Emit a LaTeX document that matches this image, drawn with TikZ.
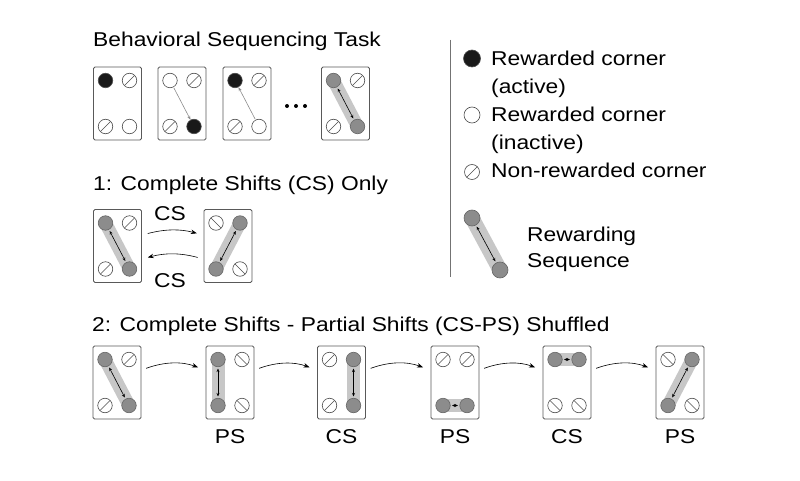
\documentclass[tikz,border=0pt]{standalone}
\usepackage{fontspec}
\setmainfont{Liberation Sans}[FakeStretch=1.14]
\usetikzlibrary{arrows.meta,backgrounds}

\tikzset{
	taskbox/.style={draw=black!65, line width=0.9pt, rounded corners=1.5pt,
		minimum width=48pt, minimum height=73pt, inner sep=0pt},
	spot/.style={circle, draw=black!70, line width=0.6pt, minimum size=14.5pt, inner sep=0pt},
	act/.style={spot, fill=black!90},
	inact/.style={spot, fill=white},
	seq/.style={spot, fill=black!45, draw=black!60},
	nrA/.style={spot, path picture={\draw[line width=0.6pt, black!70]
			(path picture bounding box.south west) -- (path picture bounding box.north east);}},
	nrB/.style={spot, path picture={\draw[line width=0.6pt, black!70]
			(path picture bounding box.north west) -- (path picture bounding box.south east);}},
	band/.style={line width=13pt, draw=black!22},
	dbl/.style={{Stealth[length=3.5pt,width=3pt]}-{Stealth[length=3.5pt,width=3pt]},
		line width=0.6pt, shorten <=1.5pt, shorten >=1.5pt},
	hint/.style={-{Stealth[length=4pt,width=3pt]}, draw=black!45, line width=0.6pt,
		shorten <=1pt},
	flow/.style={-{Stealth[length=6pt,width=4.5pt]}, line width=0.6pt,
		shorten <=5pt, shorten >=8pt},
	txt/.style={inner sep=0pt, anchor=base west}
}

% box with four corner spots: name, centre, tl, tr, bl, br
\newcommand{\cornerbox}[6]{%
	\node[taskbox] (#1) at (#2) {};
	\node[#3] (#1-tl) at ([shift={(-12,23)}]#1) {};
	\node[#4] (#1-tr) at ([shift={(12,23)}]#1) {};
	\node[#5] (#1-bl) at ([shift={(-12,-23)}]#1) {};
	\node[#6] (#1-br) at ([shift={(12,-23)}]#1) {};
}

\begin{document}
\begin{tikzpicture}[x=1pt, y=1pt, font=\fontsize{20}{24}\selectfont]
	\useasboundingbox (0,0) rectangle (800,480);

	% task
	\node[txt] (tasktitle) at (93,433.5) {Behavioral Sequencing Task};
	\cornerbox{t1}{117.5,376.5}{act}{nrA}{nrA}{inact}
	\cornerbox{t2}{182,376.5}{inact}{nrA}{nrA}{act}
	\cornerbox{t3}{247,376.5}{act}{nrA}{nrA}{inact}
	\cornerbox{t4}{345.5,376.5}{seq}{nrA}{nrA}{seq}
	\draw[hint] (t2-tl) -- (t2-br);
	\draw[hint] (t3-br) -- (t3-tl);
	\draw[dbl] (t4-tl) -- (t4-br);
	\foreach \x in {287,296,305}
		\fill (\x,374) circle (2pt);

	% legend
	\draw[black!55, line width=0.8pt] (450,440) -- (450,203);
	\node[act, minimum size=17pt] (keyact) at (472,421.5) {};
	\node[txt] (keyacttxt) at (491,414) {Rewarded corner};
	\node[txt] (keyactsub) at (491,386) {(active)};
	\node[inact, minimum size=16pt] (keyinact) at (472,365) {};
	\node[txt] (keyinacttxt) at (491,358) {Rewarded corner};
	\node[txt] (keyinactsub) at (491,330) {(inactive)};
	\node[nrA, minimum size=15pt] (keynr) at (472,308) {};
	\node[txt] (keynrtxt) at (491,302) {Non-rewarded corner};
	\node[seq, minimum size=16pt] (keyseqa) at (472,262) {};
	\node[seq, minimum size=16pt] (keyseqb) at (500,210) {};
	\draw[dbl] (keyseqa) -- (keyseqb);
	\node[txt] (keyseqtxt) at (527,239) {Rewarding};
	\node[txt] (keyseqsub) at (527,213) {Sequence};

	% 1: complete shifts
	\node[txt] (cstitle) at (93,290) {1: Complete Shifts (CS) Only};
	\cornerbox{csa}{117.5,234}{seq}{nrA}{nrA}{seq}
	\cornerbox{csb}{228,234}{nrB}{seq}{seq}{nrB}
	\draw[dbl] (csa-tl) -- (csa-br);
	\draw[dbl] (csb-tr) -- (csb-bl);
	\draw[flow, shorten <=6pt, shorten >=7pt] (csa.24) to[bend left=15] (csb.156);
	\draw[flow, shorten <=6pt, shorten >=6pt] (csb.208) to[bend right=15] (csa.332);
	\node[txt, anchor=base] (csup) at (170,260) {CS};
	\node[txt, anchor=base] (csdown) at (170,193) {CS};

	% 2: shuffled
	\node[txt] (mixtitle) at (92,149) {2: Complete Shifts - Partial Shifts (CS-PS) Shuffled};
	\cornerbox{b1}{117,97.5}{seq}{nrA}{nrA}{seq}
	\cornerbox{b2}{230,97.5}{seq}{nrB}{seq}{nrB}
	\cornerbox{b3}{341.5,97.5}{nrA}{seq}{nrA}{seq}
	\cornerbox{b4}{455,97.5}{nrA}{nrA}{seq}{seq}
	\cornerbox{b5}{567,97.5}{seq}{seq}{nrB}{nrB}
	\cornerbox{b6}{680,97.5}{nrB}{seq}{seq}{nrB}
	\draw[dbl] (b1-tl) -- (b1-br);
	\draw[dbl] (b2-tl) -- (b2-bl);
	\draw[dbl] (b3-tr) -- (b3-br);
	\draw[dbl] (b4-bl) -- (b4-br);
	\draw[dbl] (b5-tl) -- (b5-tr);
	\draw[dbl] (b6-tr) -- (b6-bl);
	\foreach \a/\b in {b1/b2,b2/b3,b3/b4,b4/b5,b5/b6}
		\draw[flow] (\a.27) to[bend left=20] (\b.153);
	\foreach \b/\t in {b2/PS,b3/CS,b4/PS,b5/CS,b6/PS}
		\node[txt, anchor=base] (\b-tag) at (\b |- 0,37) {\t};

	\begin{scope}[on background layer]
		\fill[white] (0,0) rectangle (800,480);
		\draw[band] (t4-tl.center) -- (t4-br.center);
		\draw[band, line width=15pt] (keyseqa.center) -- (keyseqb.center);
		\draw[band] (csa-tl.center) -- (csa-br.center);
		\draw[band] (csb-tr.center) -- (csb-bl.center);
		\draw[band] (b1-tl.center) -- (b1-br.center);
		\draw[band] (b2-tl.center) -- (b2-bl.center);
		\draw[band] (b3-tr.center) -- (b3-br.center);
		\draw[band] (b4-bl.center) -- (b4-br.center);
		\draw[band] (b5-tl.center) -- (b5-tr.center);
		\draw[band] (b6-tr.center) -- (b6-bl.center);
	\end{scope}
\end{tikzpicture}
\end{document}
